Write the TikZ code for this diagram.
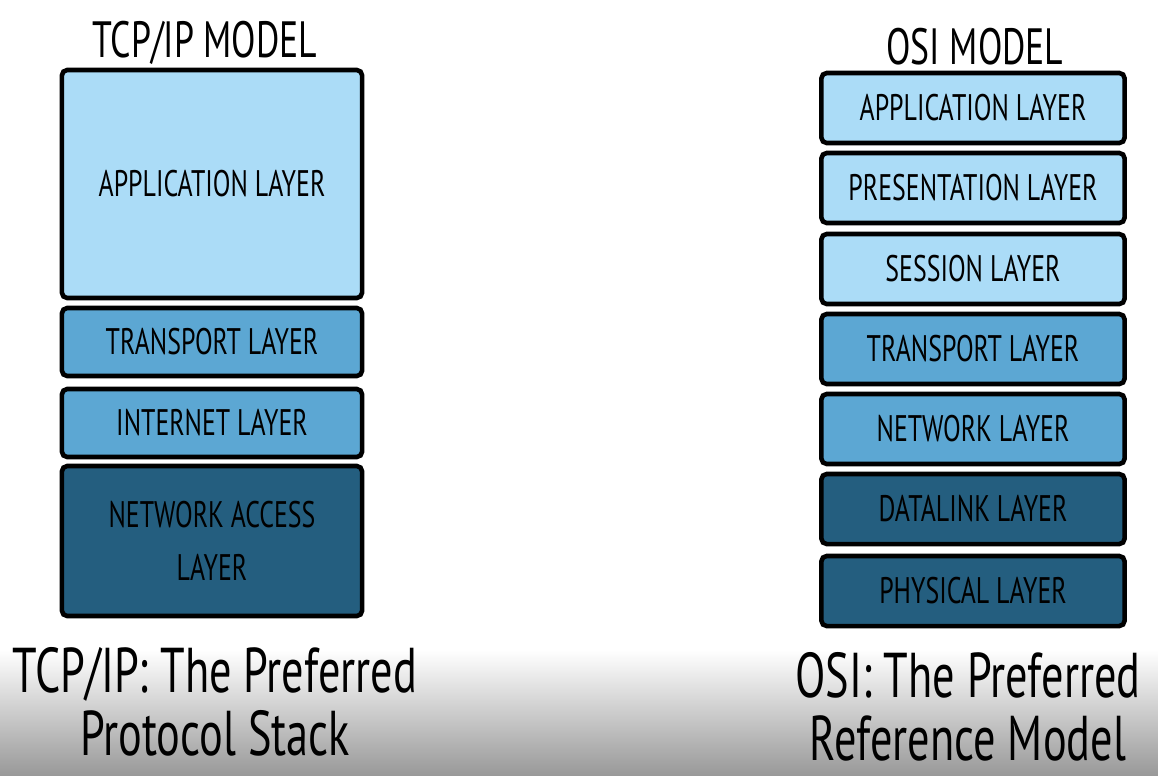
\documentclass[tikz,border=0pt]{standalone}
\usepackage{fontspec}
\setmainfont[FakeStretch=0.7]{PT Sans}
\usetikzlibrary{positioning}
\definecolor{lightblue}{HTML}{ABDCF7}
\definecolor{midblue}{HTML}{5CA7D3}
\definecolor{darkblue}{HTML}{245E7F}
\tikzset{
  layer/.style={draw=black,line width=1.3pt,rounded corners=1.5pt,minimum width=3cm,
    align=center,font=\fontsize{10.5}{12}\selectfont},
  title/.style={font=\fontsize{14.5}{16}\selectfont},
  caption/.style={font=\fontsize{18}{18}\selectfont,align=center}
}
\begin{document}
\begin{tikzpicture}[x=0.01cm,y=-0.01cm]
  \useasboundingbox (0,0) rectangle (1158,775);
  \shade[top color=white,bottom color=black!40] (0,650) rectangle (1158,775);
  % TCP/IP stack
  \node[title] (tcptitle) at (205,43) {TCP/IP MODEL};
  \foreach \n/\y/\h/\c/\t in {tapp/184/228/lightblue/APPLICATION LAYER,
      ttrans/342/68/midblue/TRANSPORT LAYER,
      tinet/423/68/midblue/INTERNET LAYER,
      tacc/541/150/darkblue/{NETWORK ACCESS\\[3pt]LAYER}}{
    \node[layer,fill=\c,minimum height=\h*0.01cm] (\n) at (212,\y) {\t};
  }
  % OSI stack
  \node[title] (osititle) at (975,47) {OSI MODEL};
  \foreach \n/\y/\c/\t in {oapp/108/lightblue/APPLICATION LAYER,
      opres/188/lightblue/PRESENTATION LAYER,
      osess/269/lightblue/SESSION LAYER,
      otrans/349/midblue/TRANSPORT LAYER,
      onet/429/midblue/NETWORK LAYER,
      olink/509/darkblue/DATALINK LAYER,
      ophys/591/darkblue/PHYSICAL LAYER}{
    \node[layer,fill=\c,minimum height=0.7cm,minimum width=3.03cm] (\n) at (973,\y) {\t};
  }
  % captions
  \node[caption] (tcpcap) at (215,702) {TCP/IP: The Preferred\\Protocol Stack};
  \node[caption] (osicap) at (968,707) {OSI: The Preferred\\Reference Model};
\end{tikzpicture}
\end{document}
